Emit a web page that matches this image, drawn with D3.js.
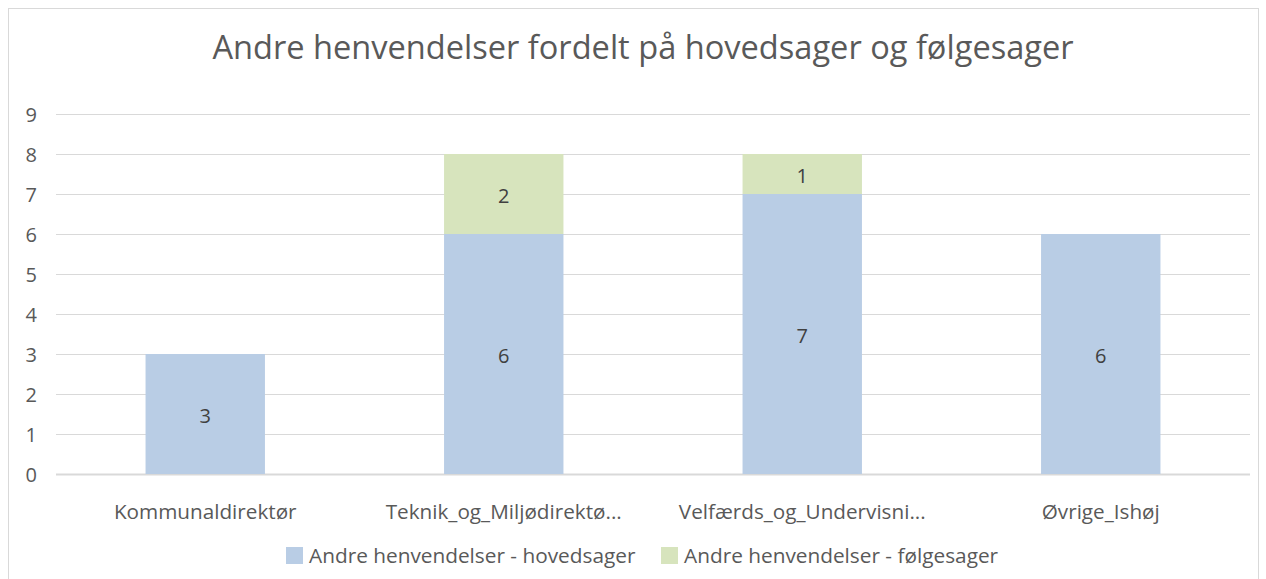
<!DOCTYPE html>
<html>
<head>
<meta charset="utf-8">
<script src="https://cdn.jsdelivr.net/npm/d3@7"></script>
<style>
  body { margin: 0; background: #fff; }
  text { font-family: "Open Sans", sans-serif; }
</style>
</head>
<body>
<div id="chart"></div>
<script>
// data
var categories = ["Kommunaldirektør", "Teknik_og_Miljødirektø...", "Velfærds_og_Undervisni...", "Øvrige_Ishøj"];
var hovedsager = [3, 6, 7, 6];
var foelgesager = [0, 2, 1, 0];
var seriesNames = ["Andre henvendelser - hovedsager", "Andre henvendelser - følgesager"];
var yTicks = [0, 1, 2, 3, 4, 5, 6, 7, 8, 9];
//

var width = 1266, height = 579;
var colors = ["#b9cde5", "#d7e4bd"];

var svg = d3.select("#chart").append("svg")
    .attr("width", width)
    .attr("height", height);

// chart border
svg.append("rect")
    .attr("x", 8.5).attr("y", 8.5)
    .attr("width", 1250).attr("height", 600)
    .style("fill", "white")
    .style("stroke", "#d9d9d9")
    .style("stroke-width", 1);

var x = d3.scaleBand()
    .domain(categories)
    .range([56, 1250])
    .paddingInner(0.6)
    .paddingOuter(0.3);

var y = d3.scaleLinear()
    .domain([0, 9])
    .range([474, 114]);

// gridlines
svg.append("g").selectAll("line")
    .data(yTicks)
    .join("line")
    .attr("x1", 56).attr("x2", 1250)
    .attr("y1", d => Math.round(y(d)) + 0.5)
    .attr("y2", d => Math.round(y(d)) + 0.5)
    .style("stroke", "#d9d9d9")
    .style("stroke-width", d => d == 0 ? 2 : 1);

// y axis labels
var yAxis = d3.axisLeft(y).tickValues(yTicks).tickSize(0).tickPadding(0);
var yg = svg.append("g")
    .attr("transform", "translate(37,0)")
    .call(yAxis);
yg.select(".domain").remove();
yg.selectAll("text")
    .style("font-size", "20px")
    .style("fill", "#595959")
    .attr("dy", "0.35em");

// stacked bars
var stackData = categories.map((c, i) => ({ cat: c, h: hovedsager[i], f: foelgesager[i] }));
var stack = d3.stack().keys(["h", "f"])(stackData);

var layers = svg.append("g").selectAll("g")
    .data(stack)
    .join("g")
    .style("fill", (d, i) => colors[i]);

layers.selectAll("rect")
    .data(d => d)
    .join("rect")
    .attr("x", d => x(d.data.cat))
    .attr("width", x.bandwidth())
    .attr("y", d => y(d[1]))
    .attr("height", d => y(d[0]) - y(d[1]));

// data labels
layers.selectAll("text")
    .data(d => d.filter(p => p[1] - p[0] > 0))
    .join("text")
    .attr("x", d => x(d.data.cat) + x.bandwidth() / 2)
    .attr("y", d => (y(d[0]) + y(d[1])) / 2 + 2)
    .attr("dy", "0.35em")
    .attr("text-anchor", "middle")
    .text(d => d[1] - d[0])
    .style("fill", "#404040")
    .style("font-size", "20px");

// x axis labels
var xAxis = d3.axisBottom(x).tickSize(0).tickPadding(0);
var xg = svg.append("g")
    .attr("transform", "translate(0,512)")
    .call(xAxis);
xg.select(".domain").remove();
xg.selectAll("text")
    .attr("dy", "0.35em")
    .style("font-size", "20.7px")
    .style("fill", "#595959");

// title
svg.append("text")
    .attr("x", 643)
    .attr("y", 59)
    .attr("text-anchor", "middle")
    .text("Andre henvendelser fordelt på hovedsager og følgesager")
    .style("font-size", "32.6px")
    .style("fill", "#595959");

// legend
var legendX = [286, 661];
var legend = svg.append("g").selectAll("g")
    .data(seriesNames)
    .join("g")
    .attr("transform", (d, i) => "translate(" + legendX[i] + ",547)");
legend.append("rect")
    .attr("width", 17).attr("height", 17)
    .style("fill", (d, i) => colors[i]);
legend.append("text")
    .attr("x", 23)
    .attr("y", 9)
    .attr("dy", "0.35em")
    .text(d => d)
    .style("font-size", "20.8px")
    .style("fill", "#595959");
</script>
</body>
</html>
